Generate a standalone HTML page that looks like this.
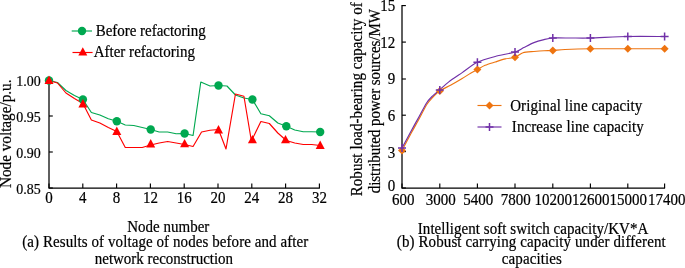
<!DOCTYPE html><html><head><meta charset="utf-8"><title>chart</title><style>html,body{margin:0;padding:0;background:#fff}svg{display:block}text{filter:grayscale(1);stroke:#000;stroke-width:.2px}text{font-family:"Liberation Serif","Times New Roman",serif;fill:#000}</style></head><body>
<svg width="685" height="268" viewBox="0 0 685 268">
<rect width="685" height="268" fill="#fff"/>
<g stroke="#000" stroke-width="1.25" fill="none">
<path d="M49 79.5V188H319.9"/>
</g>
<g stroke="#000" stroke-width="1.15" fill="none">
<path d="M49 80H52.8"/>
<path d="M49 116H52.8"/>
<path d="M49 152H52.8"/>
<path d="M49 188H52.8"/>
<path d="M49.00 188V183.4"/>
<path d="M82.80 188V183.4"/>
<path d="M116.60 188V183.4"/>
<path d="M150.40 188V183.4"/>
<path d="M184.20 188V183.4"/>
<path d="M218.00 188V183.4"/>
<path d="M251.80 188V183.4"/>
<path d="M285.60 188V183.4"/>
<path d="M319.40 188V183.4"/>
</g>
<text transform="translate(40.7,85.8) scale(1,1.05)" font-size="14" text-anchor="end">1.00</text>
<text transform="translate(40.7,121.8) scale(1,1.05)" font-size="14" text-anchor="end">0.95</text>
<text transform="translate(40.7,157.8) scale(1,1.05)" font-size="14" text-anchor="end">0.90</text>
<text transform="translate(40.7,193.8) scale(1,1.05)" font-size="14" text-anchor="end">0.85</text>
<text transform="translate(49.00,203.3) scale(1,1.05)" font-size="15" text-anchor="middle">0</text>
<text transform="translate(82.80,203.3) scale(1,1.05)" font-size="15" text-anchor="middle">4</text>
<text transform="translate(116.60,203.3) scale(1,1.05)" font-size="15" text-anchor="middle">8</text>
<text transform="translate(150.40,203.3) scale(1,1.05)" font-size="15" text-anchor="middle">12</text>
<text transform="translate(184.20,203.3) scale(1,1.05)" font-size="15" text-anchor="middle">16</text>
<text transform="translate(218.00,203.3) scale(1,1.05)" font-size="15" text-anchor="middle">20</text>
<text transform="translate(251.80,203.3) scale(1,1.05)" font-size="15" text-anchor="middle">24</text>
<text transform="translate(285.60,203.3) scale(1,1.05)" font-size="15" text-anchor="middle">28</text>
<text transform="translate(319.40,203.3) scale(1,1.05)" font-size="15" text-anchor="middle">32</text>
<text transform="translate(11,133.75) rotate(-90) scale(1,1.05)" font-size="15.3" text-anchor="middle" textLength="108.5" lengthAdjust="spacing">Node voltage/p.u.</text>
<polyline points="49.00,80.50 57.48,82.50 65.95,90.50 74.42,95.50 82.90,99.50 91.38,112.50 99.85,115.00 108.32,118.75 116.80,121.25 125.27,125.00 133.75,125.50 142.22,127.50 150.70,129.50 159.18,132.00 167.65,132.00 176.12,133.75 184.60,133.50 193.07,135.50 200.80,82.00 210.03,86.00 218.50,85.50 226.97,86.00 235.45,95.00 243.92,98.00 252.40,99.50 260.88,113.75 269.35,115.75 277.82,123.00 286.30,126.25 294.77,130.00 303.25,131.75 311.72,131.75 320.20,132.00" fill="none" stroke="#00a850" stroke-width="1.15" stroke-linejoin="round"/>
<polyline points="49.00,80.50 57.48,83.00 65.95,93.00 74.42,98.50 82.90,103.50 91.38,120.00 99.85,123.00 108.32,127.50 116.80,131.50 125.27,147.50 133.75,147.50 142.22,147.50 150.70,145.00 159.18,143.00 167.65,141.50 176.12,143.00 184.60,144.50 193.07,146.50 201.55,132.00 210.03,130.25 218.50,129.50 226.00,149.00 235.45,94.00 243.92,96.25 251.40,141.00 260.88,121.50 269.35,123.50 277.82,133.00 286.30,140.50 294.77,143.00 303.25,144.50 311.72,144.50 320.20,145.50" fill="none" stroke="#ff0000" stroke-width="1.15" stroke-linejoin="round"/>
<circle cx="49.00" cy="80.50" r="4.2" fill="#00a850"/>
<circle cx="82.90" cy="99.50" r="4.2" fill="#00a850"/>
<circle cx="116.80" cy="121.25" r="4.2" fill="#00a850"/>
<circle cx="150.70" cy="129.50" r="4.2" fill="#00a850"/>
<circle cx="184.60" cy="133.50" r="4.2" fill="#00a850"/>
<circle cx="218.50" cy="85.50" r="4.2" fill="#00a850"/>
<circle cx="252.40" cy="99.50" r="4.2" fill="#00a850"/>
<circle cx="286.30" cy="126.25" r="4.2" fill="#00a850"/>
<circle cx="320.20" cy="132.00" r="4.2" fill="#00a850"/>
<polygon points="49.00,75.60 53.50,83.90 44.50,83.90" fill="#ff0000"/>
<polygon points="82.90,99.10 87.40,107.40 78.40,107.40" fill="#ff0000"/>
<polygon points="116.80,126.60 121.30,134.90 112.30,134.90" fill="#ff0000"/>
<polygon points="150.70,139.10 155.20,147.40 146.20,147.40" fill="#ff0000"/>
<polygon points="184.60,138.90 189.10,147.20 180.10,147.20" fill="#ff0000"/>
<polygon points="218.50,125.10 223.00,133.40 214.00,133.40" fill="#ff0000"/>
<polygon points="252.40,134.90 256.90,143.20 247.90,143.20" fill="#ff0000"/>
<polygon points="285.50,134.90 290.00,143.20 281.00,143.20" fill="#ff0000"/>
<polygon points="320.20,140.60 324.70,148.90 315.70,148.90" fill="#ff0000"/>
<path d="M71.7 31H92" stroke="#00a850" stroke-width="1.15"/><circle cx="82.00" cy="31.00" r="4.2" fill="#00a850"/>
<text transform="translate(95.7,35.5) scale(1,1.05)" font-size="15" textLength="110" lengthAdjust="spacing">Before refactoring</text>
<path d="M72.5 52.5H92.6" stroke="#ff0000" stroke-width="1.15"/><polygon points="82.80,47.30 87.30,55.60 78.30,55.60" fill="#ff0000"/>
<text transform="translate(93.7,57) scale(1,1.05)" font-size="15" textLength="101.3" lengthAdjust="spacing">After refactoring</text>
<text transform="translate(127.3,232) scale(1,1.05)" font-size="15" textLength="82" lengthAdjust="spacing">Node number</text>
<text transform="translate(22.3,247) scale(1,1.05)" font-size="15" textLength="286" lengthAdjust="spacing">(a) Results of voltage of nodes before and after</text>
<text transform="translate(94.8,263.5) scale(1,1.05)" font-size="15" textLength="138.3" lengthAdjust="spacing">network reconstruction</text>
<g stroke="#000" stroke-width="1.25" fill="none">
<path d="M402 5V188H665.1"/>
</g>
<g stroke="#000" stroke-width="1.15" fill="none">
<path d="M402 5.6H405.9"/>
<path d="M402 42.1H405.9"/>
<path d="M402 79H405.9"/>
<path d="M402 115.2H405.9"/>
<path d="M402 151.6H405.9"/>
<path d="M402 188H405.9"/>
<path d="M402.00 188V183.4"/>
<path d="M439.80 188V183.4"/>
<path d="M477.40 188V183.4"/>
<path d="M515.00 188V183.4"/>
<path d="M552.80 188V183.4"/>
<path d="M590.40 188V183.4"/>
<path d="M627.80 188V183.4"/>
<path d="M664.60 188V183.4"/>
</g>
<text transform="translate(395.2,11.3) scale(1,1.05)" font-size="15" text-anchor="end">15</text>
<text transform="translate(395.2,47.9) scale(1,1.05)" font-size="15" text-anchor="end">12</text>
<text transform="translate(395.2,84.1) scale(1,1.05)" font-size="15" text-anchor="end">9</text>
<text transform="translate(395.2,120.5) scale(1,1.05)" font-size="15" text-anchor="end">6</text>
<text transform="translate(395.2,157.5) scale(1,1.05)" font-size="15" text-anchor="end">3</text>
<text transform="translate(395.2,191.25) scale(1,1.05)" font-size="15" text-anchor="end">0</text>
<text transform="translate(403.20,205.3) scale(1,1.05)" font-size="15" text-anchor="middle">600</text>
<text transform="translate(440.70,205.3) scale(1,1.05)" font-size="15" text-anchor="middle">3000</text>
<text transform="translate(478.20,205.3) scale(1,1.05)" font-size="15" text-anchor="middle">5400</text>
<text transform="translate(515.70,205.3) scale(1,1.05)" font-size="15" text-anchor="middle">7800</text>
<text transform="translate(553.20,205.3) scale(1,1.05)" font-size="15" text-anchor="middle">10200</text>
<text transform="translate(590.70,205.3) scale(1,1.05)" font-size="15" text-anchor="middle">12600</text>
<text transform="translate(628.20,205.3) scale(1,1.05)" font-size="15" text-anchor="middle">15000</text>
<text transform="translate(666.70,205.3) scale(1,1.05)" font-size="15" text-anchor="middle">17400</text>
<text transform="translate(362.3,99.3) rotate(-90) scale(1,1.05)" font-size="15" text-anchor="middle" textLength="194" lengthAdjust="spacing">Robust load-bearing capacity of</text>
<text transform="translate(380.2,101.2) rotate(-90) scale(1,1.05)" font-size="15" text-anchor="middle" textLength="184" lengthAdjust="spacing">distributed power sources/MW</text>
<path d="M402.00 150.50C403.12 148.38 408.94 137.31 411.00 133.50C413.06 129.69 416.52 123.62 418.50 120.00C420.48 116.38 425.05 107.31 426.80 104.50C428.55 101.69 430.91 99.19 432.50 97.50C434.09 95.81 437.25 92.53 439.50 91.00C441.75 89.47 447.66 86.81 450.50 85.25C453.34 83.69 459.69 80.01 462.20 78.50C464.71 76.99 468.73 74.31 470.60 73.20C472.48 72.09 475.39 70.59 477.20 69.60C479.01 68.61 482.85 66.25 485.10 65.30C487.35 64.35 492.68 62.80 495.20 62.00C497.72 61.20 502.79 59.50 505.30 58.90C507.81 58.30 513.09 57.98 515.30 57.20C517.51 56.43 520.67 53.41 523.00 52.70C525.33 51.99 531.27 51.75 533.90 51.50C536.52 51.25 541.65 50.83 544.00 50.70C546.35 50.58 550.08 50.65 552.70 50.50C555.33 50.35 560.34 49.72 565.00 49.50C569.66 49.28 582.19 48.84 590.00 48.75C597.81 48.66 618.19 48.75 627.50 48.75C636.81 48.75 659.88 48.75 664.50 48.75" fill="none" stroke="#ee7410" stroke-width="1.15"/>
<path d="M402.00 148.00C403.12 145.90 409.00 134.88 411.00 131.20C413.00 127.52 416.07 122.10 418.00 118.60C419.93 115.10 424.65 105.96 426.40 103.20C428.15 100.44 430.36 98.15 432.00 96.50C433.64 94.85 437.40 91.83 439.50 90.00C441.60 88.17 445.96 84.08 448.80 81.90C451.64 79.73 458.65 75.05 462.20 72.60C465.75 70.15 473.07 64.31 477.20 62.30C481.32 60.29 490.44 57.79 495.20 56.50C499.96 55.21 511.72 53.11 515.30 52.00C518.88 50.89 521.47 48.77 523.80 47.60C526.12 46.43 531.38 43.60 533.90 42.60C536.42 41.60 541.65 40.18 544.00 39.60C546.35 39.02 549.33 38.20 552.70 38.00C556.08 37.80 566.34 38.00 571.00 38.00C575.66 38.00 582.94 38.19 590.00 38.00C597.06 37.81 618.19 36.69 627.50 36.50C636.81 36.31 659.88 36.50 664.50 36.50" fill="none" stroke="#7030a8" stroke-width="1.15"/>
<polygon points="402.00,146.50 406.00,150.50 402.00,154.50 398.00,150.50" fill="#ee7410"/>
<polygon points="439.80,87.00 443.80,91.00 439.80,95.00 435.80,91.00" fill="#ee7410"/>
<polygon points="477.40,65.60 481.40,69.60 477.40,73.60 473.40,69.60" fill="#ee7410"/>
<polygon points="515.00,53.20 519.00,57.20 515.00,61.20 511.00,57.20" fill="#ee7410"/>
<polygon points="552.80,46.50 556.80,50.50 552.80,54.50 548.80,50.50" fill="#ee7410"/>
<polygon points="590.40,44.75 594.40,48.75 590.40,52.75 586.40,48.75" fill="#ee7410"/>
<polygon points="627.80,44.75 631.80,48.75 627.80,52.75 623.80,48.75" fill="#ee7410"/>
<polygon points="664.60,44.75 668.60,48.75 664.60,52.75 660.60,48.75" fill="#ee7410"/>
<path d="M398.00 148.00H406.00M402.00 144.00V152.00" stroke="#7030a8" stroke-width="1.5" fill="none"/>
<path d="M435.80 90.00H443.80M439.80 86.00V94.00" stroke="#7030a8" stroke-width="1.5" fill="none"/>
<path d="M473.40 62.30H481.40M477.40 58.30V66.30" stroke="#7030a8" stroke-width="1.5" fill="none"/>
<path d="M511.00 52.00H519.00M515.00 48.00V56.00" stroke="#7030a8" stroke-width="1.5" fill="none"/>
<path d="M548.80 38.00H556.80M552.80 34.00V42.00" stroke="#7030a8" stroke-width="1.5" fill="none"/>
<path d="M586.40 38.00H594.40M590.40 34.00V42.00" stroke="#7030a8" stroke-width="1.5" fill="none"/>
<path d="M623.80 36.50H631.80M627.80 32.50V40.50" stroke="#7030a8" stroke-width="1.5" fill="none"/>
<path d="M660.60 36.50H668.60M664.60 32.50V40.50" stroke="#7030a8" stroke-width="1.5" fill="none"/>
<path d="M477.5 105.5H501.5" stroke="#ee7410" stroke-width="1.15"/><polygon points="489.50,101.50 493.50,105.50 489.50,109.50 485.50,105.50" fill="#ee7410"/>
<text transform="translate(510.2,110.8) scale(1,1.05)" font-size="15" textLength="132" lengthAdjust="spacing">Original line capacity</text>
<path d="M477.5 127H501.5" stroke="#7030a8" stroke-width="1.15"/><path d="M485.50 127.00H493.50M489.50 123.00V131.00" stroke="#7030a8" stroke-width="1.5" fill="none"/>
<text transform="translate(511.8,132.3) scale(1,1.05)" font-size="15" textLength="132" lengthAdjust="spacing">Increase line capacity</text>
<text transform="translate(417.8,233.5) scale(1,1.05)" font-size="15" textLength="230.5" lengthAdjust="spacing">Intelligent soft switch capacity/KV*A</text>
<text transform="translate(396.8,246.8) scale(1,1.05)" font-size="15" textLength="269" lengthAdjust="spacing">(b) Robust carrying capacity under different</text>
<text transform="translate(501.8,263.5) scale(1,1.05)" font-size="15" textLength="60" lengthAdjust="spacing">capacities</text>
</svg></body></html>
